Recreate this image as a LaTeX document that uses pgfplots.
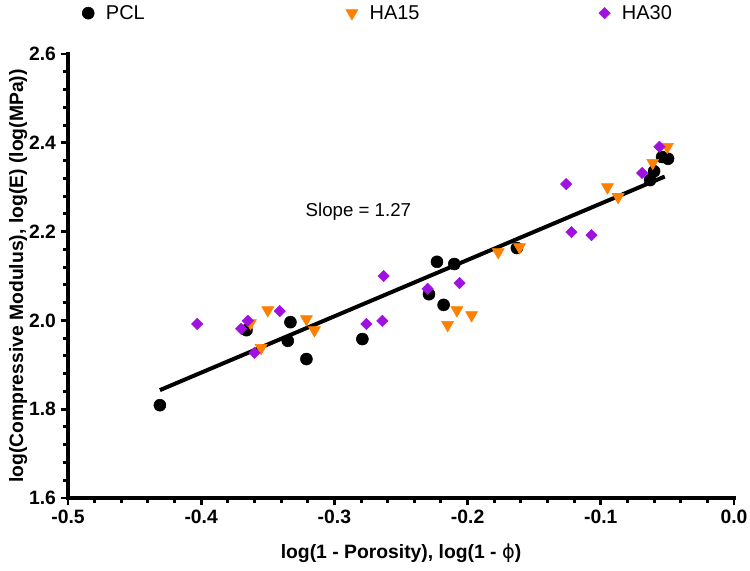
\documentclass[border=0pt]{standalone}
\usepackage{fontspec}
\setmainfont{Liberation Sans}
\newfontfamily\dejavu{DejaVu Sans}
\usepackage{pgfplots}
\pgfplotsset{compat=1.18}
\definecolor{ha15}{RGB}{255,128,0}
\definecolor{ha30}{RGB}{160,16,224}
\begin{document}
\begin{tikzpicture}
\begin{axis}[
  scale only axis,
  width=499.5pt, height=333pt,
  xmin=-0.5, xmax=0, ymin=1.6, ymax=2.6,
  axis x line=bottom, axis y line=left,
  axis line style={-, line width=2.6pt, line cap=rect},
  xtick={-0.5,-0.4,-0.3,-0.2,-0.1,0},
  xticklabels={-0.5,-0.4,-0.3,-0.2,-0.1,0.0},
  ytick={1.6,1.8,2.0,2.2,2.4,2.6},
  yticklabels={1.6,1.8,2.0,2.2,2.4,2.6},
  minor x tick num=4, minor y tick num=4,
  tick align=outside,
  major tick length=5.5pt, minor tick length=3.5pt,
  every tick/.style={black, line width=2.2pt},
  ticklabel style={font=\fontsize{14.5}{16}\selectfont\bfseries},
  clip=false,
  every axis x label/.style={at={(rel axis cs:0.5,-0.124)}, anchor=center},
  every axis y label/.style={at={(rel axis cs:-0.075,0.5)}, anchor=center, rotate=90},
  label style={font=\fontsize{14.5}{16}\selectfont\bfseries},
  xlabel={log(1 - Porosity), log(1 - {\dejavu\mdseries ϕ})},
  ylabel={log(Compressive Modulus), log(E) (log(MPa))},
  legend columns=3,
  legend style={at={(rel axis cs:0.021,1.092)}, anchor=west, draw=none, fill=none,
    font=\fontsize{15}{17}\selectfont, inner sep=0pt,
    /tikz/every odd column/.append style={column sep=6.75pt}},
  legend cell align=left,
]
\addplot[only marks, mark=*, mark size=4.5pt, black] coordinates {
(-0.431,1.809) (-0.366,1.978) (-0.333,1.996) (-0.335,1.954) (-0.321,1.913)
(-0.279,1.958) (-0.223,2.132) (-0.210,2.127) (-0.229,2.059) (-0.218,2.035)
(-0.163,2.163) (-0.063,2.316) (-0.060,2.336) (-0.054,2.368) (-0.0495,2.364)
};
\addlegendentry{\makebox[178pt][l]{PCL}}
\addplot[only marks, mark=triangle*, mark size=5.2pt, color=ha15, mark options={rotate=180, fill=ha15, draw=ha15}] coordinates {
(-0.350,2.023) (-0.363,1.994) (-0.321,2.003) (-0.315,1.978) (-0.355,1.938)
(-0.177,2.154) (-0.161,2.165) (-0.208,2.023) (-0.197,2.012) (-0.215,1.990)
(-0.095,2.300) (-0.087,2.278) (-0.050,2.391) (-0.061,2.355)
};
\addlegendentry{\makebox[170pt][l]{HA15}}
\addplot[only marks, mark=square*, mark size=3pt, color=ha30, mark options={rotate=45, fill=ha30, draw=ha30}] coordinates {
(-0.403,1.992) (-0.365,1.999) (-0.370,1.981) (-0.341,2.021) (-0.360,1.927)
(-0.276,1.992) (-0.263,2.100) (-0.264,1.999) (-0.230,2.071) (-0.206,2.084)
(-0.126,2.307) (-0.122,2.199) (-0.107,2.192) (-0.069,2.332) (-0.056,2.391)
};
\addlegendentry{HA30}
\addplot[black, line width=3pt, forget plot] coordinates {(-0.431,1.843) (-0.052,2.324)};
\node[font=\fontsize{14}{16}\selectfont, anchor=center] at (axis cs:-0.282,2.244) {Slope = 1.27};
\end{axis}
\pgfresetboundingbox
\path[use as bounding box] (current axis.south west) ++(-51pt,-54.75pt) rectangle ++(562.5pt,428.25pt);
\end{tikzpicture}
\end{document}
